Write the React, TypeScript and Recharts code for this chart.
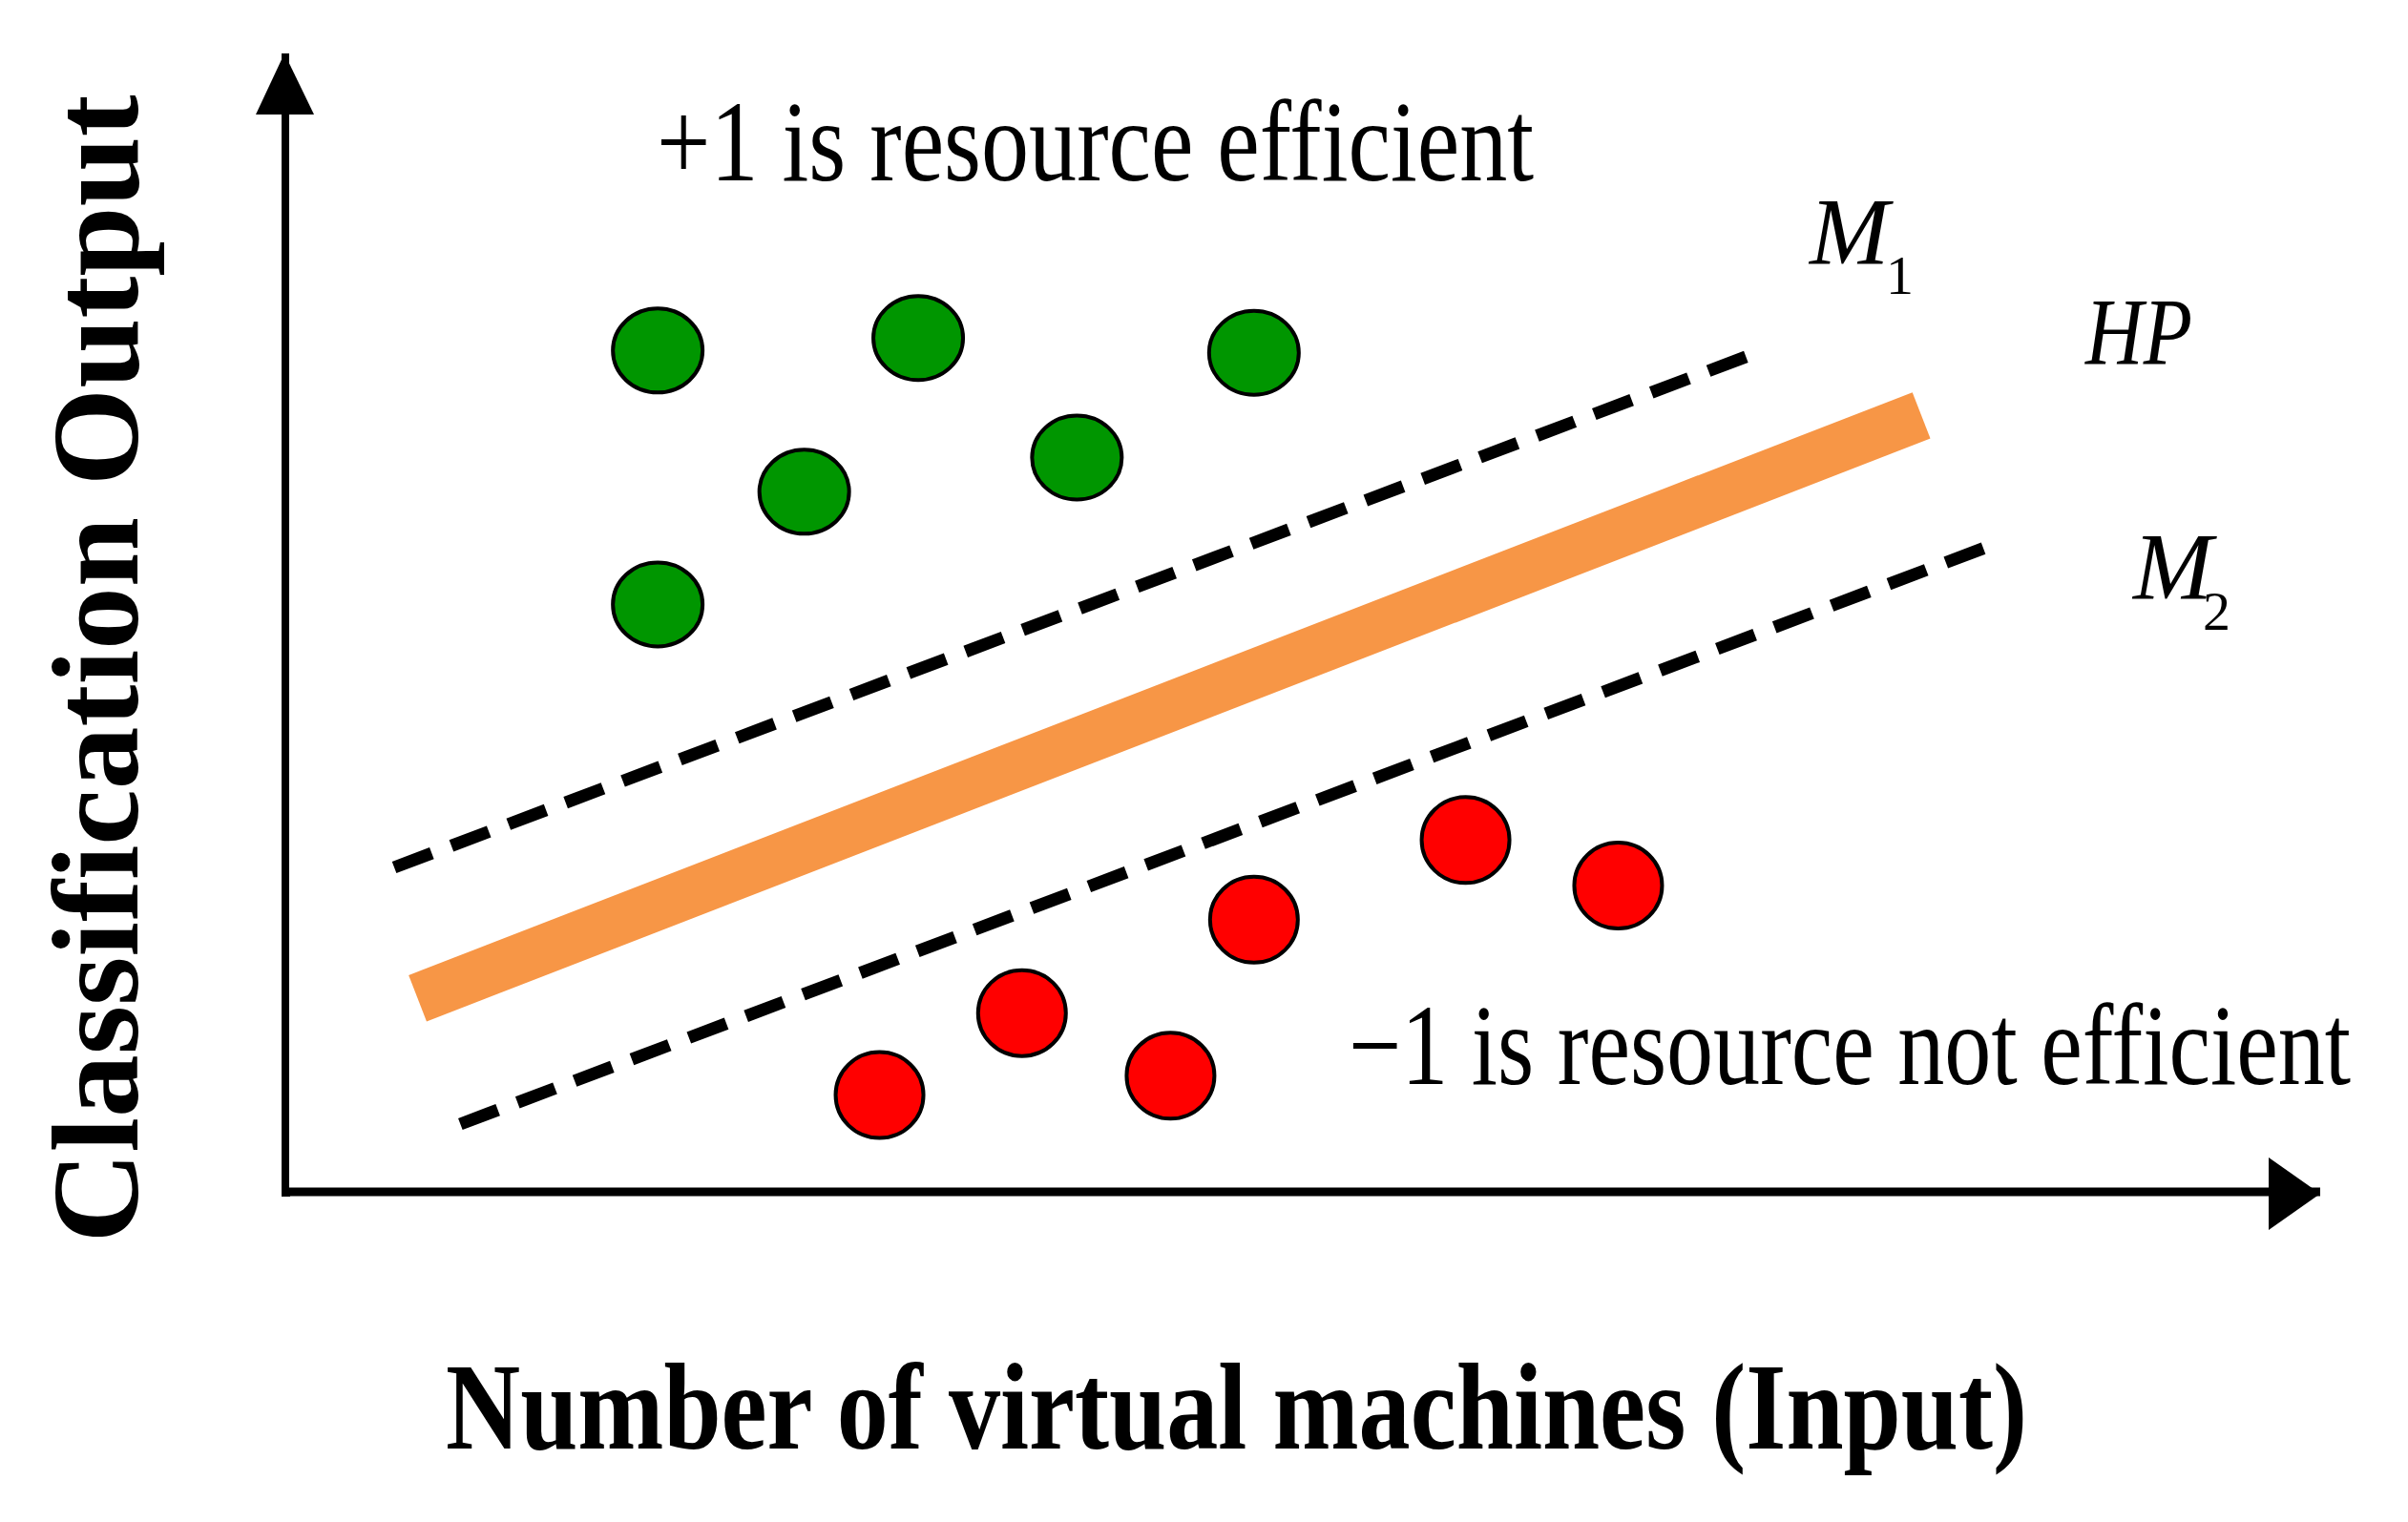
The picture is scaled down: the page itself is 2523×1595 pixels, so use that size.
import React from "react"
import { ComposedChart, Line, Scatter, XAxis, YAxis, ReferenceDot } from "recharts"

// points, axis units 0..100 on both axes
const greenPoints = [
  { x: 18.3, y: 73.9 },
  { x: 31.1, y: 75.0 },
  { x: 47.6, y: 73.7 },
  { x: 25.5, y: 61.5 },
  { x: 38.9, y: 64.5 },
  { x: 18.3, y: 51.6 },
]

const redPoints = [
  { x: 58.0, y: 30.9 },
  { x: 65.5, y: 26.9 },
  { x: 47.6, y: 23.9 },
  { x: 36.2, y: 15.7 },
  { x: 43.5, y: 10.2 },
  { x: 29.2, y: 8.5 },
]

// margin M1, hyperplane HP, margin M2
const m1Line = [
  { x: 5.35, y: 28.5 },
  { x: 72.0, y: 73.5 },
]
const hpLine = [
  { x: 6.5, y: 17.0 },
  { x: 80.4, y: 68.2 },
]
const m2Line = [
  { x: 8.6, y: 5.95 },
  { x: 83.7, y: 56.7 },
]

const serif = "'Liberation Serif', 'Times New Roman', serif"

const GreenDot = (props: any) => (
  <ellipse cx={props.cx} cy={props.cy} rx={47} ry={44} fill="#009600" stroke="#000" strokeWidth={4} />
)

const RedDot = (props: any) => (
  <ellipse cx={props.cx} cy={props.cy} rx={46} ry={45} fill="#ff0000" stroke="#000" strokeWidth={4} />
)

const XArrow = (props: any) => (
  <polygon
    points={`${props.cx},${props.cy + 2} ${props.cx - 54},${props.cy - 36} ${props.cx - 54},${props.cy + 40}`}
    fill="#000"
  />
)

const YArrow = (props: any) => (
  <polygon
    points={`${props.cx - 1},${props.cy} ${props.cx - 31},${props.cy + 64} ${props.cx + 30},${props.cy + 64}`}
    fill="#000"
  />
)

const Corner = (props: any) => (
  <rect x={props.cx - 4} y={props.cy - 4} width={9} height={9} fill="#000" />
)

export default function App() {
  return (
    <div style={{ position: "absolute", left: 0, top: 0, width: 2523, height: 1595, background: "#fff" }}>
      <ComposedChart width={2523} height={1595} margin={{ top: 56, right: 92, bottom: 345, left: 298 }}>
        <XAxis
          type="number"
          dataKey="x"
          domain={[0, 100]}
          tick={false}
          tickLine={false}
          height={1}
          axisLine={{ stroke: "#000", strokeWidth: 9 }}
        />
        <YAxis
          type="number"
          dataKey="y"
          domain={[0, 100]}
          tick={false}
          tickLine={false}
          width={1}
          axisLine={{ stroke: "#000", strokeWidth: 8 }}
        />
        <Line
          data={m1Line}
          dataKey="y"
          type="linear"
          stroke="#000"
          strokeWidth={13}
          strokeDasharray="42 22"
          dot={false}
          activeDot={false}
          isAnimationActive={false}
        />
        <Line
          data={hpLine}
          dataKey="y"
          type="linear"
          stroke="#f79646"
          strokeWidth={52}
          dot={false}
          activeDot={false}
          isAnimationActive={false}
        />
        <Line
          data={m2Line}
          dataKey="y"
          type="linear"
          stroke="#000"
          strokeWidth={13}
          strokeDasharray="42 22"
          dot={false}
          activeDot={false}
          isAnimationActive={false}
        />
        <Scatter data={greenPoints} dataKey="y" shape={GreenDot} isAnimationActive={false} />
        <Scatter data={redPoints} dataKey="y" shape={RedDot} isAnimationActive={false} />
        <ReferenceDot x={100} y={0} r={1} shape={XArrow} ifOverflow="visible" />
        <ReferenceDot x={0} y={100} r={1} shape={YArrow} ifOverflow="visible" />
        <ReferenceDot x={0} y={0} r={1} shape={Corner} ifOverflow="visible" />

        <text x={688} y={189} fontFamily={serif} fontSize={120} textLength={919} lengthAdjust="spacingAndGlyphs" fill="#000">
          +1 is resource efficient
        </text>
        <text x={1413} y={1136} fontFamily={serif} fontSize={120} textLength={1050} lengthAdjust="spacingAndGlyphs" fill="#000">
          −1 is resource not efficient
        </text>

        <text x={1896} y={276} fontFamily={serif} fontStyle="italic" fontSize={100} fill="#000">M</text>
        <text x={1976} y={308} fontFamily={serif} fontSize={58} fill="#000">1</text>
        <text x={2185} y={381} fontFamily={serif} fontStyle="italic" fontSize={100} textLength={112} lengthAdjust="spacingAndGlyphs" fill="#000">
          HP
        </text>
        <text x={2235} y={627} fontFamily={serif} fontStyle="italic" fontSize={100} fill="#000">M</text>
        <text x={2308} y={660} fontFamily={serif} fontSize={58} fill="#000">2</text>

        <text x={467} y={1518} fontFamily={serif} fontWeight="bold" fontSize={130} textLength={1657} lengthAdjust="spacingAndGlyphs" fill="#000">
          Number of virtual machines (Input)
        </text>
        <text
          x={0}
          y={0}
          transform="translate(144, 701) rotate(-90)"
          textAnchor="middle"
          fontFamily={serif}
          fontWeight="bold"
          fontSize={130}
          textLength={1203}
          lengthAdjust="spacingAndGlyphs"
          fill="#000"
        >
          Classification Output
        </text>
      </ComposedChart>
    </div>
  )
}
